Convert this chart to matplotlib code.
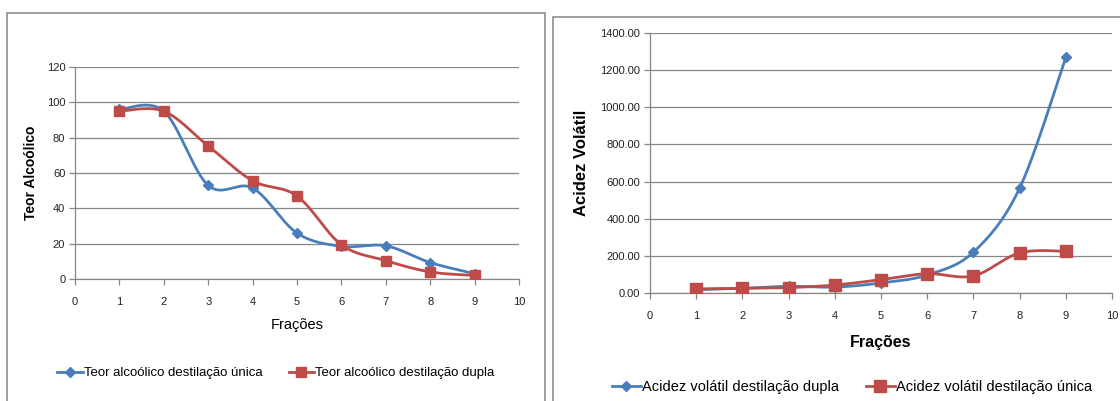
import numpy as np
import matplotlib
matplotlib.use("Agg")
import matplotlib.pyplot as plt
from matplotlib.patches import Rectangle
from matplotlib.ticker import FormatStrFormatter

# data
fracoes = [1, 2, 3, 4, 5, 6, 7, 8, 9]
teor_unica = [96, 95, 53, 51.5, 26, 18.5, 18.8, 9.3, 3]
teor_dupla = [95, 95, 75.3, 55.6, 47, 19.4, 10.4, 4, 2]
acidez_dupla = [18, 25, 36, 32, 54, 97, 220, 564, 1269]
acidez_unica = [22, 25, 29, 43, 72, 104, 92, 216, 225]

BLUE = "#4A7EBB"
RED = "#BE4B48"
GRID = "#868686"
W, H = 1120, 401


def smooth(x, y, n=30):
    # Excel-like smoothed line (Catmull-Rom bezier), drawing only
    x = np.asarray(x, float)
    y = np.asarray(y, float)
    px = np.concatenate([[x[0]], x, [x[-1]]])
    py = np.concatenate([[y[0]], y, [y[-1]]])
    xs, ys = [], []
    t = np.linspace(0, 1, n)
    for i in range(1, len(px) - 2):
        p0 = np.array([px[i], py[i]])
        p3 = np.array([px[i + 1], py[i + 1]])
        c1 = p0 + (np.array([px[i + 1], py[i + 1]]) - np.array([px[i - 1], py[i - 1]])) / 6
        c2 = p3 - (np.array([px[i + 2], py[i + 2]]) - np.array([px[i], py[i]])) / 6
        b = ((1 - t) ** 3)[:, None] * p0 + (3 * (1 - t) ** 2 * t)[:, None] * c1 \
            + (3 * (1 - t) * t ** 2)[:, None] * c2 + (t ** 3)[:, None] * p3
        xs.extend(b[:, 0])
        ys.extend(b[:, 1])
    return xs, ys


def box(l, t, r, b):
    return [l / W, (H - b) / H, (r - l) / W, (b - t) / H]


def style_axes(ax, ymax, ystep):
    ax.set_xlim(0, 10)
    ax.set_ylim(0, ymax)
    ax.set_xticks(range(0, 11))
    ax.set_yticks(np.arange(0, ymax + 1, ystep))
    ax.yaxis.grid(True, color=GRID, lw=0.9)
    ax.set_axisbelow(True)
    for s in ["top", "right"]:
        ax.spines[s].set_visible(False)
    for s in ["left", "bottom"]:
        ax.spines[s].set_color(GRID)
        ax.spines[s].set_linewidth(0.9)
    ax.tick_params(colors=GRID, length=4, width=0.9, labelcolor="#222222",
                   labelsize=8, pad=3)
    ax.tick_params(axis="x", pad=9)


def plot_series(ax, y, color, marker, ms, label):
    sx, sy = smooth(fracoes, y)
    ax.plot(sx, sy, color=color, lw=2, solid_capstyle="round", zorder=3)
    ax.plot(fracoes, y, ls="none", marker=marker, ms=ms, color=color,
            mec=color, zorder=4)
    # legend proxy
    return ax.plot([], [], color=color, lw=2, marker=marker, ms=ms, label=label)[0]


fig = plt.figure(figsize=(W / 100, H / 100), dpi=100)
plt.rcParams["font.family"] = ["Liberation Sans", "DejaVu Sans"]

# chart borders
fig.patches.append(Rectangle((7 / W, -0.1), (545 - 7) / W, (H - 13) / H + 0.1,
                             transform=fig.transFigure, fill=False,
                             ec="#8c8c8c", lw=1.2))
fig.patches.append(Rectangle((553 / W, -0.1), 0.6, (H - 17) / H + 0.1,
                             transform=fig.transFigure, fill=False,
                             ec="#8c8c8c", lw=1.2))

# left chart
ax1 = fig.add_axes(box(75, 67, 519, 279))
style_axes(ax1, 120, 20)
h1 = plot_series(ax1, teor_unica, BLUE, "D", 5, "Teor alcoólico destilação única")
h2 = plot_series(ax1, teor_dupla, RED, "s", 7.5, "Teor alcoólico destilação dupla")
ax1.set_ylabel("Teor Alcoólico", fontsize=10, fontweight="bold", labelpad=6)
ax1.set_xlabel("Frações", fontsize=10.5, labelpad=8)
fig.legend(handles=[h1, h2], loc="center", bbox_to_anchor=(276 / W, (H - 373) / H),
           ncol=2, frameon=False, fontsize=9.5, handlelength=1.9,
           handletextpad=0.1, columnspacing=2.0)

# right chart
ax2 = fig.add_axes(box(650, 33, 1112, 293))
style_axes(ax2, 1400, 200)
ax2.yaxis.set_major_formatter(FormatStrFormatter("%.2f"))
h3 = plot_series(ax2, acidez_dupla, BLUE, "D", 5, "Acidez volátil destilação dupla")
h4 = plot_series(ax2, acidez_unica, RED, "s", 8, "Acidez volátil destilação única")
ax2.set_ylabel("Acidez Volátil", fontsize=12, fontweight="bold", labelpad=8)
ax2.set_xlabel("Frações", fontsize=11.5, fontweight="bold", labelpad=10)
fig.legend(handles=[h3, h4], loc="center", bbox_to_anchor=(852 / W, (H - 387) / H),
           ncol=2, frameon=False, fontsize=10.5, handlelength=2.0,
           handletextpad=0.1, columnspacing=1.8)

fig.savefig("out.png", dpi=100, facecolor="white")
